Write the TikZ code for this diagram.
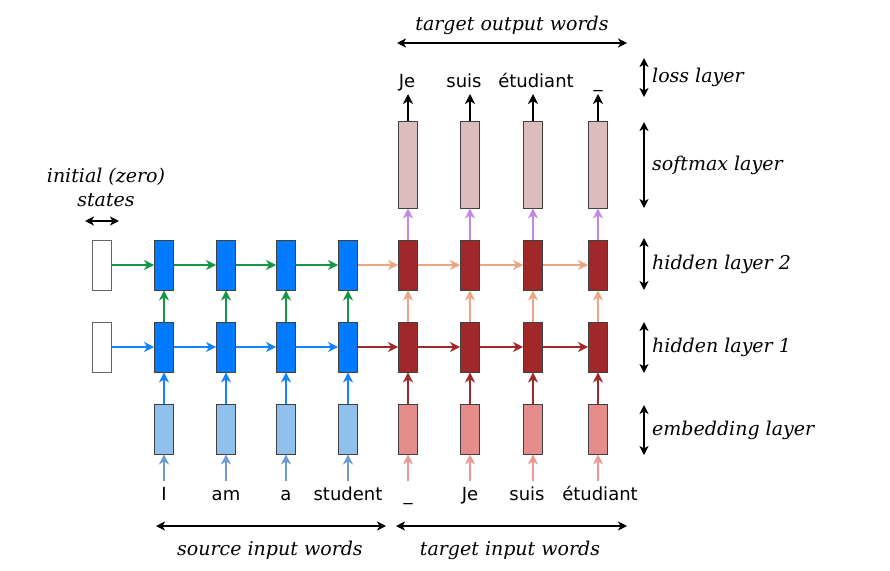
\documentclass[tikz,border=0pt]{standalone}
\usepackage{fontspec}
\setmainfont{DejaVu Serif}
\setsansfont{DejaVu Sans}
\usetikzlibrary{arrows.meta}
\definecolor{hblue}{RGB}{0,122,255}
\definecolor{ablue}{RGB}{20,130,255}
\definecolor{agreen}{RGB}{20,150,70}
\definecolor{eblue}{RGB}{146,192,236}
\definecolor{ainblue}{RGB}{110,155,210}
\definecolor{hred}{RGB}{160,40,40}
\definecolor{epink}{RGB}{229,140,140}
\definecolor{ainpink}{RGB}{236,150,150}
\definecolor{smx}{RGB}{219,189,189}
\definecolor{asalmon}{RGB}{236,165,132}
\definecolor{apurple}{RGB}{195,135,230}
\begin{document}
\begin{tikzpicture}[x=1pt,y=-1pt,
  cell/.style={draw=black!75, line width=0.9pt, minimum width=19pt, minimum height=50pt, inner sep=0pt},
  smcell/.style={cell, minimum height=87pt, fill=smx},
  arr/.style={line width=2.4pt, -{Stealth[length=10pt,width=10pt,inset=3pt]}},
  dbl/.style={line width=1.5pt, {Stealth[length=9pt,width=9pt,inset=2.5pt]}-{Stealth[length=9pt,width=9pt,inset=2.5pt]}},
  word/.style={font=\sffamily\fontsize{18}{21}\selectfont, anchor=base, inner sep=0pt},
  lbl/.style={font=\itshape\fontsize{19}{22}\selectfont, inner sep=0pt}]
\path[use as bounding box] (0,0) rectangle (890,570);

% initial states
\node[cell, fill=white, draw=black!60] (h10) at (102,347) {};
\node[cell, fill=white, draw=black!60] (h20) at (102,265) {};

% source columns
\foreach \i/\x/\w in {1/164/I,2/226/am,3/286/a,4/348/student}{
  \node[cell, fill=eblue] (e\i) at (\x,429) {};
  \node[cell, fill=hblue] (ha\i) at (\x,347) {};
  \node[cell, fill=hblue] (hb\i) at (\x,265) {};
  \coordinate (in\i) at (\x,481);
  \node[word] (w\i) at (\x,500) {\w};
  \draw[arr, ainblue] (in\i) -- (e\i.south);
  \draw[arr, ablue] (e\i.north) -- (ha\i.south);
  \draw[arr, agreen] (ha\i.north) -- (hb\i.south);
}
% target columns
\foreach \i/\x/\w/\wx/\o/\ox in {5/408/\_/408/Je/407,6/470/Je/470/suis/464,7/533/suis/527/étudiant/536,8/598/étudiant/600/\_/598}{
  \node[cell, fill=epink] (e\i) at (\x,429) {};
  \node[cell, fill=hred] (ha\i) at (\x,347) {};
  \node[cell, fill=hred] (hb\i) at (\x,265) {};
  \node[smcell] (s\i) at (\x,164.5) {};
  \coordinate (in\i) at (\x,481);
  \coordinate (out\i) at (\x,94);
  \node[word] (w\i) at (\wx,500) {\w};
  \node[word] (o\i) at (\ox,87) {\o};
  \draw[arr, ainpink] (in\i) -- (e\i.south);
  \draw[arr, hred] (e\i.north) -- (ha\i.south);
  \draw[arr, asalmon] (ha\i.north) -- (hb\i.south);
  \draw[arr, apurple] (hb\i.north) -- (s\i.south);
  \draw[arr, black] (s\i.north) -- (out\i);
}
% horizontal recurrences
\draw[arr, ablue] (h10.east) -- (ha1.west);
\draw[arr, agreen] (h20.east) -- (hb1.west);
\foreach \j/\i in {1/2,2/3,3/4}{
  \draw[arr, ablue] (ha\j.east) -- (ha\i.west);
  \draw[arr, agreen] (hb\j.east) -- (hb\i.west);
}
\foreach \j/\i in {4/5,5/6,6/7,7/8}{
  \draw[arr, hred] (ha\j.east) -- (ha\i.west);
  \draw[arr, asalmon] (hb\j.east) -- (hb\i.west);
}

% annotations
\node[lbl] (tow) at (512,25) {target output words};
\coordinate (towa) at (397,43); \coordinate (towb) at (627,43);
\draw[dbl] (towa) -- (towb);

\node[lbl] (siw) at (270,550) {source input words};
\coordinate (siwa) at (156,526); \coordinate (siwb) at (386,526);
\draw[dbl] (siwa) -- (siwb);

\node[lbl] (tiw) at (510,550) {target input words};
\coordinate (tiwa) at (396,526); \coordinate (tiwb) at (627,526);
\draw[dbl] (tiwa) -- (tiwb);

\node[lbl] (ini1) at (106,177) {initial (zero)};
\node[lbl] (ini2) at (106,200) {states};
\coordinate (inia) at (85,221); \coordinate (inib) at (119,221);
\draw[dbl] (inia) -- (inib);

\foreach \n/\a/\b/\t in {ll/58/97/loss layer, sl/122/208/softmax layer, hl2/238/290/hidden layer 2, hl1/322/373/hidden layer 1, el/405/455/embedding layer}{
  \coordinate (\n a) at (644,\a); \coordinate (\n b) at (644,\b);
  \draw[dbl] (\n a) -- (\n b);
  \node[lbl, anchor=west] (\n t) at (652,{(\a+\b)/2}) {\t};
}
\end{tikzpicture}
\end{document}
